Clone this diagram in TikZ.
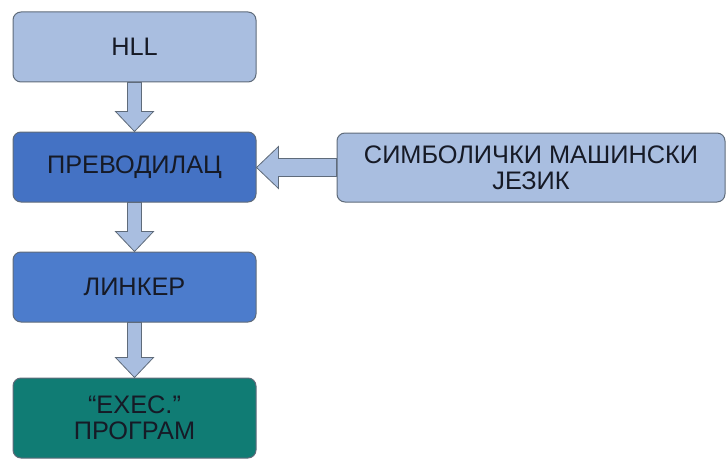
\documentclass[tikz,border=0pt]{standalone}
\usepackage{fontspec}
\setmainfont{Liberation Sans}
\usepackage{tikz}
\usetikzlibrary{calc}
\newcommand{\pu}{0.75pt}
\definecolor{lightbox}{RGB}{169,190,224}
\definecolor{darkbox}{RGB}{68,114,196}
\definecolor{midbox}{RGB}{76,124,204}
\definecolor{tealbox}{RGB}{16,124,116}
\definecolor{rim}{RGB}{95,107,122}
\definecolor{ink}{RGB}{22,26,38}

\begin{document}
\begin{tikzpicture}[x=\pu,y=-\pu,
  box/.style={draw=rim,line width=1*\pu,rounded corners=8*\pu,minimum width=243*\pu,minimum height=70*\pu,align=center,font=\fontsize{19}{19.5}\selectfont,text=ink},
  blockarrow/.style={draw=rim,fill=lightbox,line width=0.8*\pu,line join=miter}]
\useasboundingbox (0,0) rectangle (728,460);
\node[box,fill=lightbox] (hll) at (134.5,47) {HLL};
\node[box,fill=darkbox] (prev) at (134.5,167) {ПРЕВОДИЛАЦ};
\node[box,fill=midbox] (link) at (134.5,287) {ЛИНКЕР};
\node[box,fill=tealbox,minimum height=80*\pu] (exec) at (134.5,418) {“EXEC.”\\ПРОГРАМ};
\node[box,fill=lightbox,minimum width=388*\pu,minimum height=69*\pu] (sym) at (531,167.5) {СИМБОЛИЧКИ МАШИНСКИ\\ЈЕЗИК};

\foreach \a/\b in {hll/prev,link/exec,prev/link}{
\draw[blockarrow] ($(\a.south)+(-7,0)$) -- ($(\b.north)+(-7,-20)$) -- ($(\b.north)+(-19,-20)$) -- (\b.north)
  -- ($(\b.north)+(19,-20)$) -- ($(\b.north)+(7,-20)$) -- ($(\a.south)+(7,0)$) -- cycle;
}
\coordinate (tip) at (prev.east |- sym.west);
\draw[blockarrow] ($(sym.west)+(0,-9)$) -- ($(tip)+(22,-9)$) -- ($(tip)+(22,-21)$) -- (tip)
  -- ($(tip)+(22,21)$) -- ($(tip)+(22,9)$) -- ($(sym.west)+(0,9)$) -- cycle;
\end{tikzpicture}
\end{document}
